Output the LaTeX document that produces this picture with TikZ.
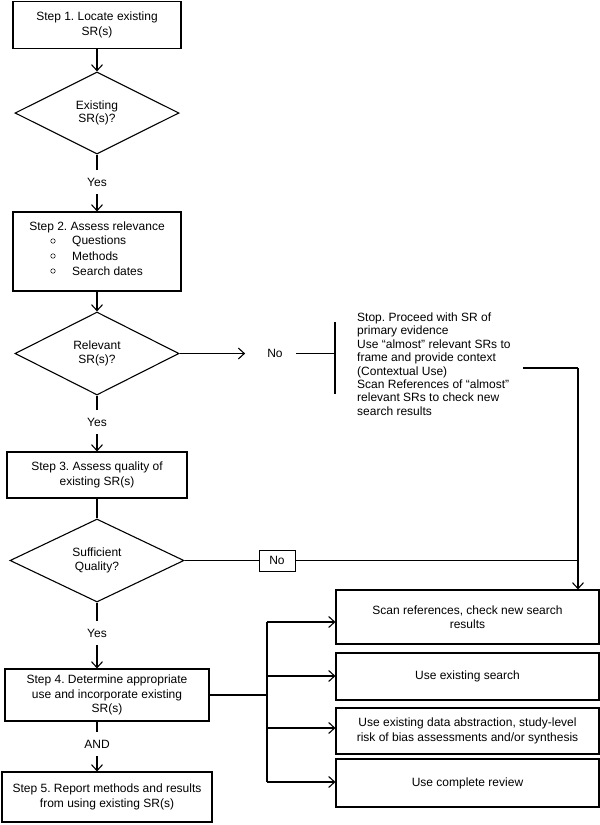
\documentclass[tikz,border=0pt]{standalone}
\usepackage{fontspec}
\setmainfont{Liberation Sans}
\usetikzlibrary{shapes.geometric,arrows.meta}
\frenchspacing
\begin{document}
\begin{tikzpicture}[x=1pt,y=-1pt,
  every node/.style={font=\fontsize{12}{14.5}\selectfont\frenchspacing, inner sep=0pt},
  box/.style={draw, line width=1.1pt, align=center},
  dec/.style={draw, diamond, aspect=2, line width=1.1pt, align=center, font=\fontsize{12}{13.5}\selectfont},
  conn/.style={line width=1.1pt},
  arr/.style={conn, -{Straight Barb[length=6pt,width=11pt]}},
  lbl/.style={inner ysep=8pt},
  bul/.style={circle, draw, line width=0.5pt, minimum size=4.5pt}]
\useasboundingbox (0,0) rectangle (600,825);

% left column
\node[box, minimum width=168pt, minimum height=47pt] (s1) at (97,25) {Step 1. Locate existing\\SR(s)};
\node[dec, minimum width=164pt, minimum height=82pt] (d1) at (97,113) {Existing\\SR(s)?};
\node[lbl] (yes1) at (97,182) {Yes};
\node[box, minimum width=168pt, minimum height=79pt] (s2) at (97,251.5) {};
\node (s2t) at (97,227) {Step 2. Assess relevance};
\node[bul] (b1) at (53,241) {};
\node[bul] (b2) at (53,256) {};
\node[bul] (b3) at (53,271) {};
\node[anchor=west] (q1) at (72,241) {Questions};
\node[anchor=west] (q2) at (72,256) {Methods};
\node[anchor=west] (q3) at (72,271) {Search dates};
\node[dec, minimum width=164pt, minimum height=83pt] (d2) at (97,353.5) {Relevant\\SR(s)?};
\node[lbl] (yes2) at (97,422) {Yes};
\node[box, minimum width=180pt, minimum height=46pt] (s3) at (97,475) {Step 3. Assess quality of\\existing SR(s)};
\node[dec, minimum width=174pt, minimum height=83pt] (d3) at (97,560.5) {Sufficient\\Quality?};
\node[lbl] (yes3) at (97,633) {Yes};
\node[box, minimum width=204pt, minimum height=52pt] (s4) at (107,695) {Step 4. Determine appropriate\\use and incorporate existing\\SR(s)};
\node[lbl] (and) at (97,744) {AND};
\node[box, minimum width=210pt, minimum height=50pt] (s5) at (107,797) {Step 5. Report methods and results\\from using existing SR(s)};

% right side
\node (no2) at (275,353.5) {No};
\coordinate (bar) at (335,353.5);
\coordinate (bart) at (335,322);
\coordinate (barb) at (335,394);
\node[anchor=north west, align=left, font=\fontsize{12}{13.4}\selectfont\frenchspacing] (note) at (357,312.5)
  {Stop. Proceed with SR of\\primary evidence\\Use “almost” relevant SRs to\\frame and provide context\\(Contextual Use)\\Scan References of “almost”\\relevant SRs to check new\\search results};
\coordinate (n1) at (523,368);
\coordinate (n2) at (578,368);
\node[draw, line width=0.8pt, minimum width=36pt, minimum height=21pt] (no3) at (277,560.5) {No};

\node[box, minimum width=263pt, minimum height=54pt] (rA) at (467.5,617) {Scan references, check new search\\results};
\node[box, minimum width=263pt, minimum height=47pt] (rB) at (467.5,676.5) {Use existing search};
\node[box, minimum width=263pt, minimum height=46pt] (rC) at (467.5,731) {Use existing data abstraction, study-level\\risk of bias assessments and/or synthesis};
\node[box, minimum width=263pt, minimum height=48pt] (rD) at (467.5,783) {Use complete review};

\coordinate (tj) at (267,695);
\coordinate (t1) at (267,622);
\coordinate (t2) at (267,676);
\coordinate (t3) at (267,728);
\coordinate (t4) at (267,782);

% connectors
\draw[arr] (s1) -- (d1);
\draw[conn] (d1) -- (yes1);
\draw[arr] (yes1) -- (s2);
\draw[arr] (s2) -- (d2);
\draw[conn] (d2) -- (yes2);
\draw[arr] (yes2) -- (s3);
\draw[conn] (s3) -- (d3);
\draw[conn] (d3) -- (yes3);
\draw[arr] (yes3) -- (yes3 |- s4.north);
\draw[conn] (s4.south -| and) -- (and);
\draw[arr] (and) -- (and |- s5.north);

\draw[arr, shorten >=22pt] (d2.east) -- (no2.west);
\draw[conn, shorten <=13pt] (no2.east) -- (bar);
\draw[conn] (bart) -- (barb);
\draw[conn] (n1) -- (n2);
\draw[arr] (n2) -- (n2 |- rA.north);
\draw[conn] (d3.east) -- (no3.west);
\draw[conn] (no3.east) -- (no3.east -| n2);

\draw[conn] (s4.east) -- (tj);
\draw[conn] (t1) -- (t4);
\draw[arr] (t1) -- (t1 -| rA.west);
\draw[arr] (t2) -- (t2 -| rB.west);
\draw[arr] (t3) -- (t3 -| rC.west);
\draw[arr] (t4) -- (t4 -| rD.west);
\end{tikzpicture}
\end{document}
